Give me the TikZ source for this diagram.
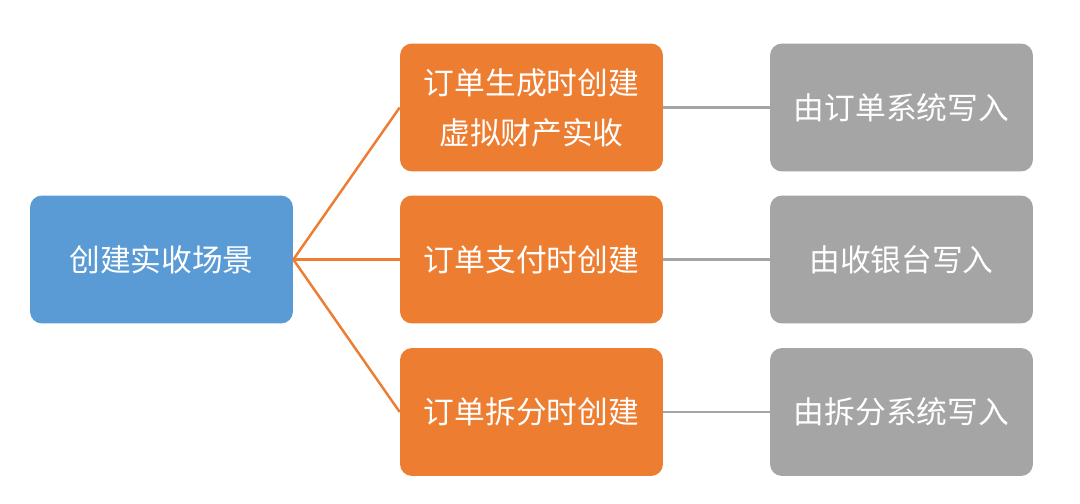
\documentclass[tikz,border=0pt]{standalone}
\usepackage{fontspec}
\setmainfont{Noto Sans CJK SC}
\usepackage{xcolor}
\definecolor{ColBlue}{RGB}{91,155,213}
\definecolor{ColOrange}{RGB}{237,125,49}
\definecolor{ColGray}{RGB}{165,165,165}
\usepackage{tikz}
\tikzstyle{Box}=[rectangle,rounded corners=0.24cm,minimum width=5.26cm,
minimum height=2.56cm,inner sep=0pt,text=white,align=center,
font=\fontsize{17.5}{28.5}\selectfont]
\tikzstyle{Scene}=[Box,fill=ColBlue]
\tikzstyle{When}=[Box,fill=ColOrange]
\tikzstyle{Who}=[Box,fill=ColGray]
\tikzstyle{EdgeO}=[draw=ColOrange,line width=1.4pt]
\tikzstyle{EdgeG}=[draw=ColGray,line width=1.4pt]

\begin{document}
\begin{tikzpicture}[x=0.02cm,y=-0.02cm]
        \useasboundingbox(0,0)rectangle(1080,504);
        \node[Scene](s)at(161.5,259.5){创建实收场景};
        \node[When](w1)at(531.5,107.5){订单生成时创建\\虚拟财产实收};
        \node[When](w2)at(531.5,259.5){订单支付时创建};
        \node[When](w3)at(531.5,412.0){订单拆分时创建};
        \node[Who](g1)at(901.5,107.5){由订单系统写入};
        \node[Who](g2)at(901.5,259.5){由收银台写入};
        \node[Who](g3)at(901.5,412.0){由拆分系统写入};
        \draw[EdgeO](s.east)--(w1.west);
        \draw[EdgeO](s.east)--(w2.west);
        \draw[EdgeO](s.east)--(w3.west);
        \draw[EdgeG](w1.east)--(g1.west);
        \draw[EdgeG](w2.east)--(g2.west);
        \draw[EdgeG](w3.east)--(g3.west);
    \end{tikzpicture}
\end{document}
